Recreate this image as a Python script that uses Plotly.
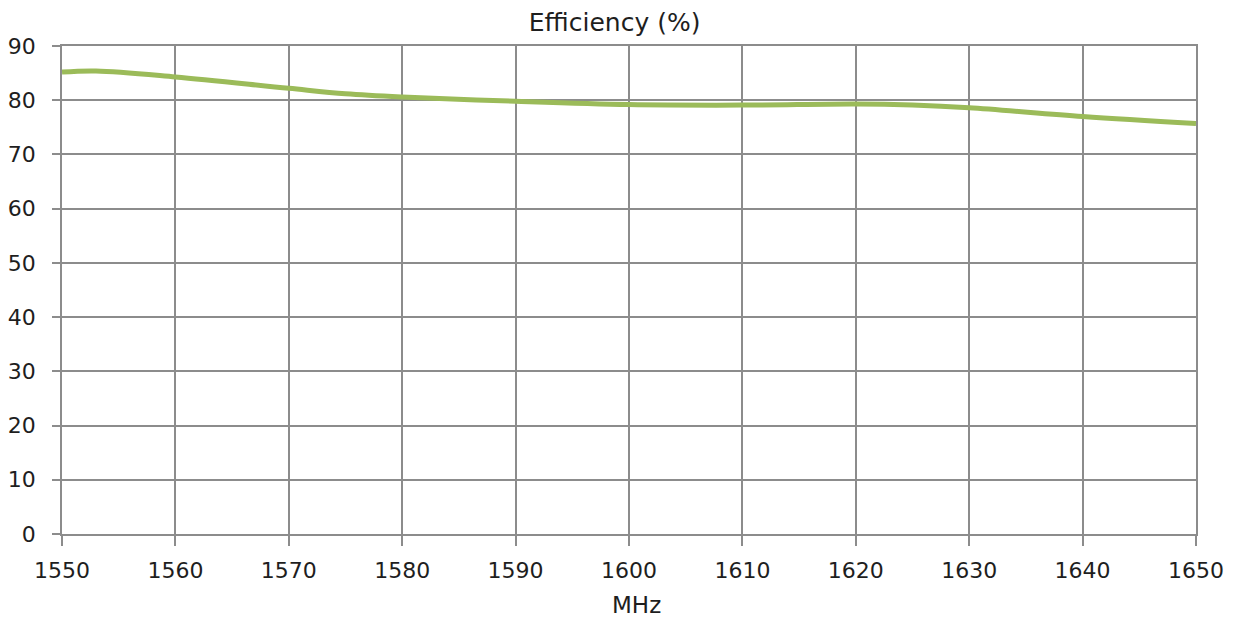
import plotly.graph_objects as go

freq_mhz = [1550, 1553, 1560, 1570, 1575, 1580, 1590, 1600, 1610, 1620, 1625, 1630, 1640, 1650]
efficiency_pct = [85.2, 85.4, 84.3, 82.2, 81.2, 80.6, 79.8, 79.2, 79.1, 79.3, 79.1, 78.6, 77.0, 75.7]

x_ticks = [1550, 1560, 1570, 1580, 1590, 1600, 1610, 1620, 1630, 1640, 1650]
y_ticks = [0, 10, 20, 30, 40, 50, 60, 70, 80, 90]

FONT = "DejaVu Sans"
GRID = "#8c8c8c"
TXT = "#1e1e1e"

fig = go.Figure()
fig.add_trace(go.Scatter(
    x=freq_mhz, y=efficiency_pct, mode="lines",
    line=dict(color="#9bbb59", width=5, shape="spline", smoothing=1.0),
    showlegend=False, hoverinfo="x+y",
))

fig.update_layout(
    width=1228, height=612,
    margin=dict(l=54, r=40, t=38, b=86),
    paper_bgcolor="white", plot_bgcolor="white",
    title=dict(text="Efficiency (%)", x=0.494, xanchor="center", y=0.977, yanchor="middle",
               font=dict(family=FONT, size=25, color=TXT)),
    font=dict(family=FONT, color=TXT),
    annotations=[dict(text="MHz", xref="paper", yref="paper", x=0.507, y=-0.145,
                      xanchor="center", yanchor="middle", showarrow=False,
                      font=dict(family=FONT, size=23, color=TXT))],
)
fig.update_xaxes(
    range=[1550, 1650], tickvals=x_ticks, ticktext=[str(v) for v in x_ticks],
    showgrid=True, gridcolor=GRID, gridwidth=1.5,
    showline=True, linecolor=GRID, linewidth=1.5, mirror=True,
    ticks="outside", ticklen=10, tickcolor=GRID, tickwidth=1.5,
    ticklabelstandoff=6,
    tickfont=dict(family=FONT, size=22, color=TXT),
    zeroline=False, fixedrange=True, automargin=False,
)
fig.update_yaxes(
    range=[0, 90], tickvals=y_ticks, ticktext=[str(v) for v in y_ticks],
    showgrid=True, gridcolor=GRID, gridwidth=1.5,
    showline=True, linecolor=GRID, linewidth=1.5, mirror=True,
    ticks="outside", ticklen=8, tickcolor=GRID, tickwidth=1.5,
    ticklabelstandoff=12,
    tickfont=dict(family=FONT, size=22, color=TXT),
    zeroline=False, fixedrange=True, automargin=False,
)

fig.write_html("out.html")
